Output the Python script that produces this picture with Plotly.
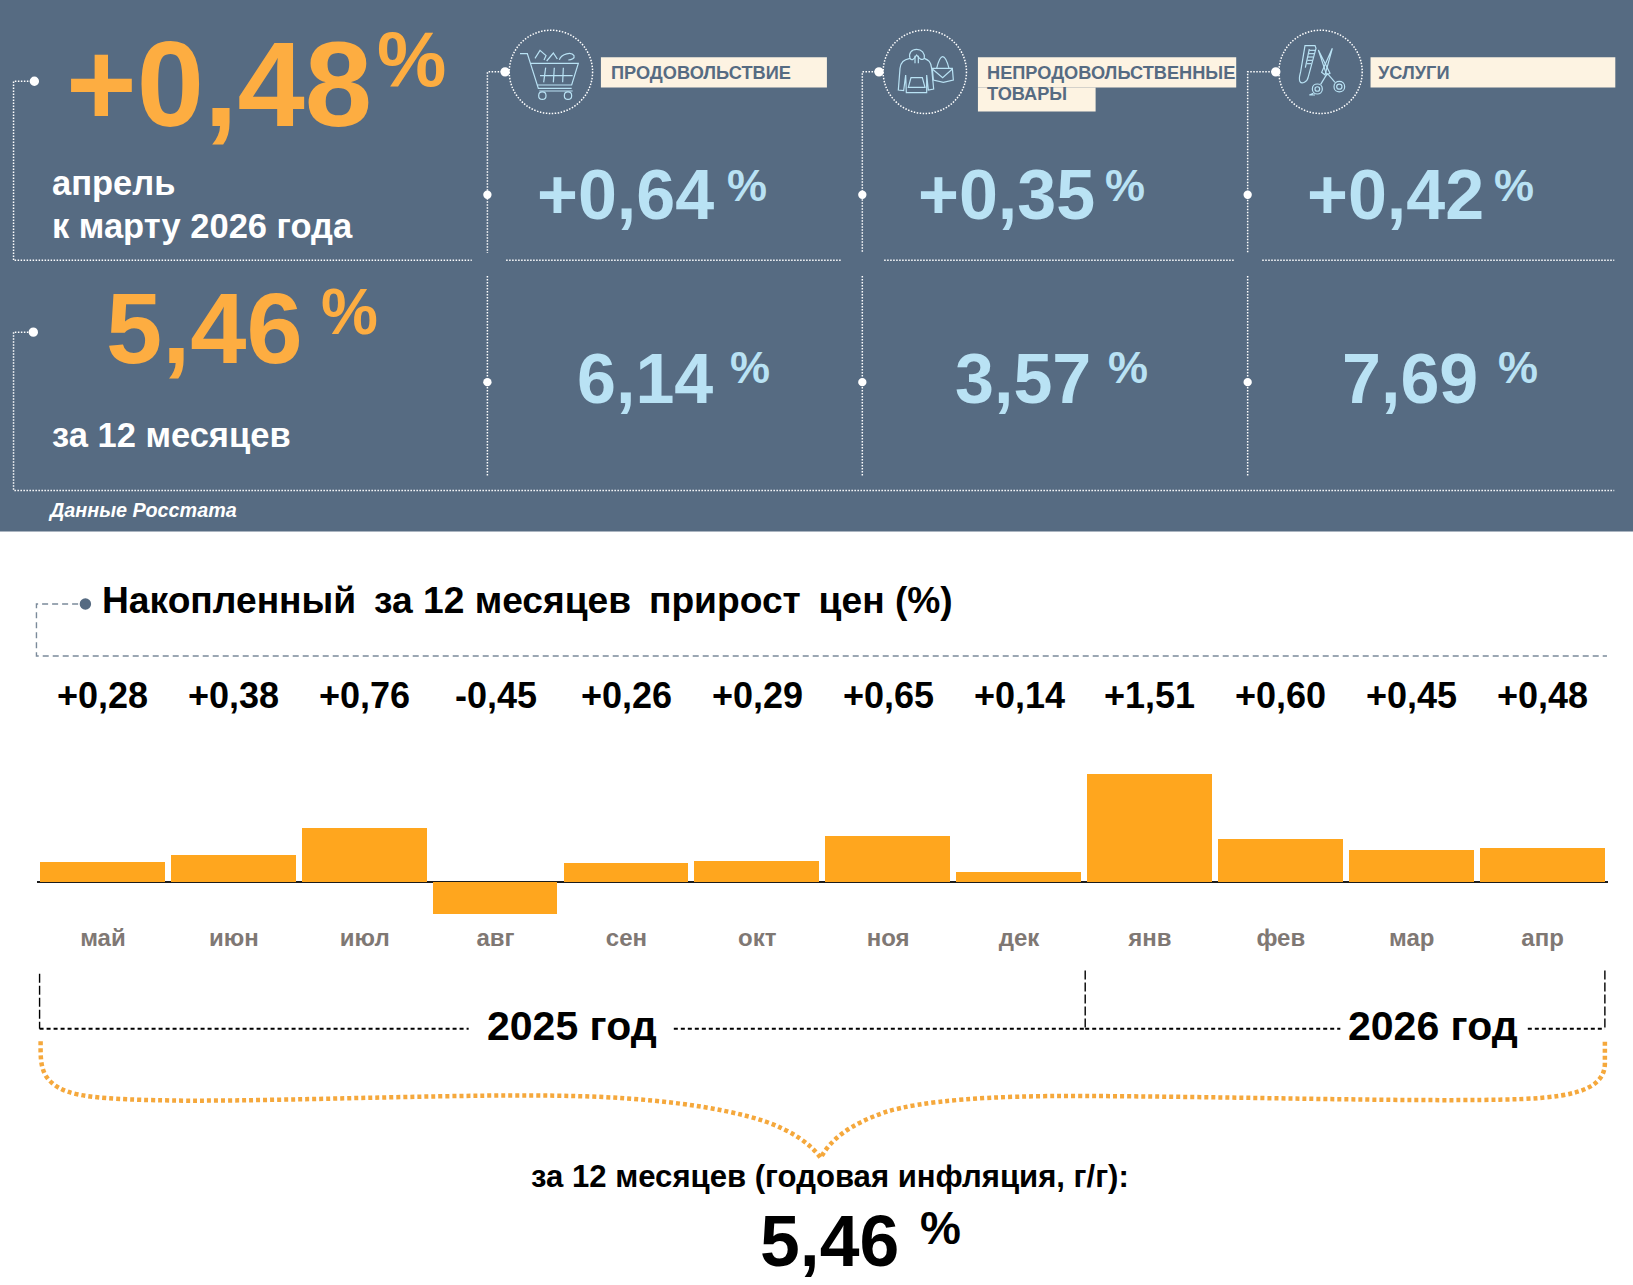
import re
import plotly.graph_objects as go

# monthly bars
months = ["май", "июн", "июл", "авг", "сен", "окт", "ноя", "дек", "янв", "фев", "мар", "апр"]
monthly_change = [0.28, 0.38, 0.76, -0.45, 0.26, 0.29, 0.65, 0.14, 1.51, 0.60, 0.45, 0.48]

# headline numbers
headline_month = 0.48
headline_year = 5.46
category_month = [0.64, 0.35, 0.42]
category_year = [6.14, 3.57, 7.69]

PANEL = "#566b82"
ORANGE = "#fdad41"
BLUE = "#b9e2f4"
BAR = "#ffa61e"
CREAM = "#fdf3e2"
FONT = "Liberation Sans"
W, H = 1633, 1285
SW, SH = 1568, 1234  # drawing grid for the decoration axes


def signed(v):
    return f"{v:+.2f}".replace(".", ",")


def plain(v):
    return f"{v:.2f}".replace(".", ",")


fig = go.Figure()
fig.add_trace(go.Bar(x=months, y=monthly_change, width=0.954, marker_color=BAR, marker_line_width=0))
# empty trace, just so the full page axes exist
fig.add_trace(go.Scatter(x=[], y=[], xaxis="x2", yaxis="y2"))

shapes = []
notes = []


def rect(x0, y0, x1, y1, color):
    shapes.append(dict(type="rect", xref="x2", yref="y2", x0=x0, y0=y0, x1=x1, y1=y1,
                       fillcolor=color, line_width=0, layer="below"))


def path(d, color, width, dash="solid"):
    shapes.append(dict(type="path", xref="x2", yref="y2", path=d,
                       line=dict(color=color, width=width, dash=dash)))


def dots(d):
    path(d, "white", 1.5, "1.5px,1.5px")


def dot(x, y, r=4.5, color="white"):
    shapes.append(dict(type="circle", xref="x2", yref="y2", x0=x - r, x1=x + r, y0=y - r, y1=y + r,
                       fillcolor=color, line_width=0))


def label(x, y, text, size, color, anchor="left", weight=700, style="normal"):
    if anchor == "left":
        x -= 2  # annotation box padding
    notes.append(dict(xref="x2", yref="y2", x=x, y=y, text=text, showarrow=False, xanchor=anchor,
                      yanchor="middle", font=dict(family=FONT, size=size, color=color, weight=weight, style=style)))


def icon(d, ox, oy):
    # icon outlines were traced on 3x crops, bring them back to the grid
    nums = re.split(r"([A-Za-z])", d)
    out = []
    for part in nums:
        if not part.strip() or part.isalpha():
            out.append(part)
            continue
        vals = [float(v) for v in part.replace(",", " ").split()]
        pts = []
        for i in range(0, len(vals), 2):
            pts.append(f"{(ox + vals[i] / 3) * SW / W:.2f},{(oy + vals[i + 1] / 3) * SH / H:.2f}")
        out.append(" ".join(pts))
    path("".join(out), BLUE, 1.2)


# panel
rect(0, 0, SW, 510.5, PANEL)

# dotted frame
dots("M33,78 L13,78 L13,250 L453,250")
dots("M486,250 L808,250")
dots("M849,250 L1186,250")
dots("M1212,250 L1550,250")
dots("M33,319 L13,319 L13,471 L1550,471")
for x, hx in zip([468, 828, 1198], [485, 844, 1225]):
    dots(f"M{hx},69 L{x},69 L{x},243")
    dots(f"M{x},265 L{x},458")
    dot(hx, 69)
    dot(x, 187, 4)
    dot(x, 367, 4)
dot(33, 78, 4.5)
dot(32, 319, 4.5)

for cx in [529, 888, 1268]:
    shapes.append(dict(type="circle", xref="x2", yref="y2", x0=cx - 40, x1=cx + 40, y0=29, y1=109,
                       line=dict(color="white", width=1.5, dash="1.5px,1.5px")))

# cart
for d in ["M60,86 L82,86 L115,190 L215,190", "M92,115 L235,115 L215,180 L112,180",
          "M137,128 L131,172", "M163,128 L160,172", "M190,128 L188,172", "M120,152 L218,152",
          "M118,198 L218,198", "M105,100 L120,76 L138,92 L132,105", "M140,108 L160,84 L172,102",
          "M178,104 C185,85 215,80 222,92 C225,100 215,105 205,105",
          "M116,212 C116,197 138,197 138,212 C138,227 116,227 116,212 Z",
          "M193,212 C193,197 215,197 215,212 C215,227 193,227 193,212 Z"]:
    icon(d, 500, 25)
# hoodie and bag
for d in ["M105,100 C85,105 78,110 75,130 L70,195 L86,197 L92,150 L94,203 L155,203 L155,150 L160,195 L176,192 L170,130 C168,110 160,105 148,100 C150,85 140,73 125,73 C110,73 100,85 105,100 Z",
          "M105,100 C112,110 118,100 125,90 C132,100 140,108 148,100", "M100,187 L108,158 L142,158 L150,187 Z",
          "M120,92 L120,115", "M130,92 L130,115", "M172,130 L232,130 L235,165 L205,172 L175,165 Z",
          "M185,130 C190,110 195,95 203,95 C210,95 218,115 222,130", "M172,132 L203,158 L232,132"]:
    icon(d, 875, 25)
# comb and scissors
for d in ["M105,62 L135,62 L138,70 L115,155 C112,172 95,178 90,170 C85,160 90,150 92,140 Z",
          "M118,72 L106,128", "M118,76 L135,76", "M116,86 L133,86", "M114,96 L130,96", "M112,106 L127,106", "M110,116 L124,116",
          "M145,75 L180,145 L170,150 Z", "M187,70 L165,150 L155,142 Z", "M172,145 L152,178", "M172,145 L195,172",
          "M127,192 C127,172 157,172 157,192 C157,212 127,212 127,192 Z", "M135,192 C135,183 149,183 149,192 C149,201 135,201 135,192 Z",
          "M192,185 C192,164 224,164 224,185 C224,206 192,206 192,185 Z", "M200,185 C200,175 216,175 216,185 C216,195 200,195 200,185 Z",
          "M130,205 L118,210 L135,210"]:
    icon(d, 1270, 25)

# category tags
rect(577, 55, 794, 84, CREAM)
rect(939, 55, 1187, 84, CREAM)
rect(939, 84, 1052, 107, CREAM)
rect(1316, 55, 1551, 84, CREAM)
label(587, 70.5, "ПРОДОВОЛЬСТВИЕ", 18.2, PANEL)
label(948, 70.5, "НЕПРОДОВОЛЬСТВЕННЫЕ", 18.2, PANEL)
label(948, 90, "ТОВАРЫ", 18.2, PANEL)
label(1323, 70.5, "УСЛУГИ", 18.2, PANEL)

# big numbers
label(63, 81, signed(headline_month), 121, ORANGE)
label(362, 57, "%", 78, ORANGE)
label(102, 315, plain(headline_year), 101, ORANGE)
label(308, 300, "%", 64, ORANGE)
label(50, 176, "апрель", 34.5, "white")
label(50, 217, "к марту 2026 года", 34.5, "white")
label(50, 418, "за 12 месяцев", 34.5, "white")
label(46, 490, "Данные Росстата", 19.8, "white", style="italic")

for x, v, px in zip([516, 882, 1255], category_month, [698, 1061, 1435]):
    label(x, 187, signed(v), 70, BLUE)
    label(px, 178.5, "%", 45, BLUE)
for x, v, px in zip([554, 917, 1289], category_year, [701, 1064, 1438]):
    label(x, 364, plain(v), 70, BLUE)
    label(px, 352.5, "%", 45, BLUE)

# lower block
path("M75,580 L35,580 L35,630 L1543,630", "#7b8a9a", 1.4, "6px,4px")
dot(82, 580, 5.5, PANEL)
label(98, 576, "Накопленный \u2009за 12 месяцев \u2009прирост \u2009цен (%)", 37.2, "black")

for m, v in zip(months, monthly_change):
    notes.append(dict(xref="x", yref="y2", x=m, y=667.5, text=signed(v), showarrow=False, yanchor="middle",
                      font=dict(family=FONT, size=36, color="black", weight=700)))

# year brackets
for d in ["M38,935 L38,988", "M1042,932 L1042,988", "M1541,932 L1541,988"]:
    path(d, "black", 1.4, "9px,3px")
for d in ["M38,988 L450,988", "M647,988 L1042,988", "M1042,988 L1287,988", "M1467,988 L1541,988"]:
    path(d, "black", 2, "4px,3px")
label(549, 985, "2025 год", 41, "black", "center")
label(1376, 985, "2026 год", 41, "black", "center")

# curly brace
path("M39,1000 C39,1015 38,1030 50,1040 C65,1053 90,1056 180,1057 C300,1057 450,1050 550,1052.5 "
     "C620,1054 690,1062 735,1077 C760,1086 778,1098 788,1112 C797,1095 815,1080 850,1068 "
     "C885,1057 950,1052 1040,1052.5 C1180,1053 1350,1058 1440,1056 C1500,1055 1541,1050 1541,1021 L1541,1000",
     "#f5a83c", 4.5, "4px,3px")

label(797, 1130, "за 12 месяцев (годовая инфляция, г/г):", 31.1, "black", "center")
label(730, 1192, plain(headline_year), 71.5, "black")
label(883, 1179, "%", 46, "black")

fig.update_layout(
    width=W, height=H, margin=dict(l=0, r=0, t=0, b=0), showlegend=False,
    paper_bgcolor="white", plot_bgcolor="rgba(0,0,0,0)", bargap=0, hovermode=False,
    xaxis=dict(type="category", domain=[36 / SW, 1544 / SW], range=[-0.5, 11.5], showgrid=False, ticks="",
               tickfont=dict(family=FONT, size=24, color="#7f7874", weight=700), showline=False, zeroline=False),
    yaxis=dict(domain=[1 - 884.6 / SH, 1 - 737.7 / SH], range=[-0.55, 1.6], showgrid=False, showticklabels=False,
               zeroline=True, zerolinecolor="#1c1c1c", zerolinewidth=2),
    xaxis2=dict(domain=[0, 1], range=[0, SW], visible=False, anchor="y2"),
    yaxis2=dict(domain=[0, 1], range=[SH, 0], visible=False, anchor="x2"),
    shapes=shapes, annotations=notes,
)

fig.write_html("out.html", config=dict(displayModeBar=False),
               post_script="document.body.style.margin='0';document.body.style.overflow='hidden';")
